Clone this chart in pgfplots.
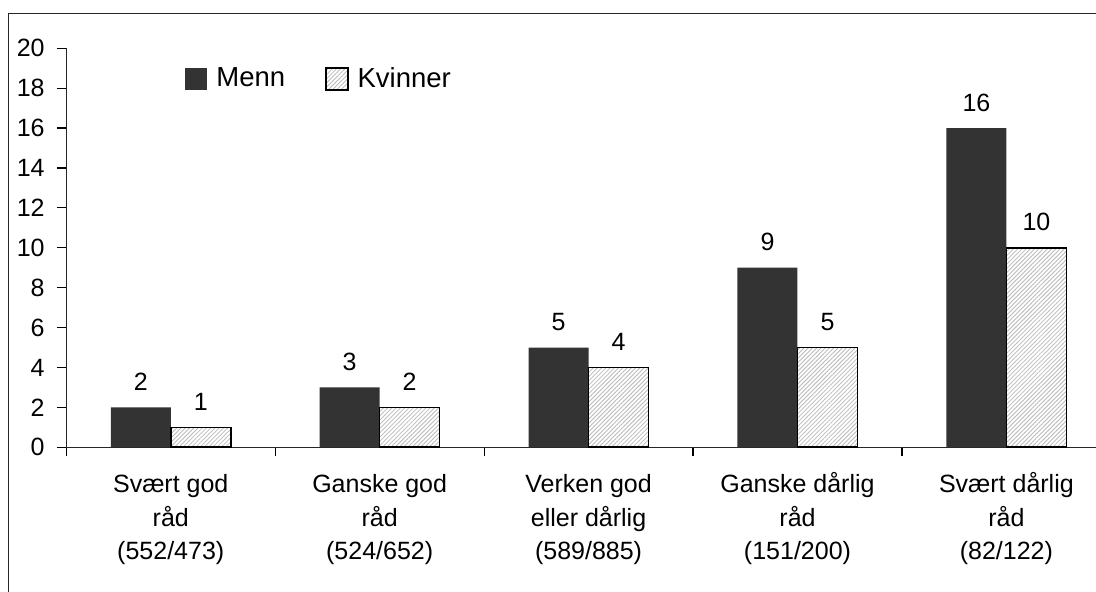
\documentclass[border=0pt]{standalone}
\usepackage{fontspec}
\setmainfont{Liberation Sans}
\usepackage{pgfplots}
\pgfplotsset{compat=1.18}
\usetikzlibrary{patterns.meta}
\definecolor{menn}{HTML}{333333}
\newcommand{\fs}{\rule{0pt}{12pt}}
\begin{document}
\begin{tikzpicture}
\begin{axis}[
  at={(33.15pt,72.35pt)}, anchor=south west,
  width=514.85pt, height=199.5pt, scale only axis,
  xmin=-0.5, xmax=4.429, ymin=0, ymax=20,
  axis x line=bottom, axis y line=left,
  axis line style={-, line width=0.6pt, black!85},
  ytick={0,2,...,20},
  xtick={0,1,2,3,4},
  xticklabels={{\fs Svært god\\råd\\(552/473)},{\fs Ganske god\\råd\\(524/652)},{\fs Verken god\\eller dårlig\\(589/885)},{\fs Ganske dårlig\\råd\\(151/200)},{\fs Svært dårlig\\råd\\(82/122)}},
  minor xtick={-0.5,0.5,1.5,2.5,3.5},
  major x tick style={draw=none},
  tick align=outside,
  major tick length=4.5pt, minor tick length=4.5pt,
  tick style={line width=0.6pt, black},
  /pgf/number format/assume math mode=true,
  tick label style={font=\fontsize{12.5}{16.75}\selectfont},
  xticklabel style={align=center, yshift=-2.7pt},
  yticklabel style={xshift=-2.8pt},
  nodes near coords,
  every node near coord/.append style={font=\fontsize{12.5}{14}\selectfont, anchor=south, yshift=4.8pt},
  legend style={at={(axis description cs:0.1153,0.923)}, anchor=west, draw=none, fill=none,
    font=\fontsize{13.75}{16}\selectfont, legend columns=2, inner sep=0pt,
    /tikz/every even column/.append style={column sep=18pt},
    /tikz/every odd column/.append style={column sep=2.5pt}},
  legend cell align=left,
]
\addplot[ybar, bar width=30pt, bar shift=-15pt, fill=menn, draw=none,
  every node near coord/.append style={xshift=-15pt},
  legend image code/.code={\fill[menn] (0pt,-5.5pt) rectangle (11pt,5.5pt);}]
  coordinates {(0,2) (1,3) (2,5) (3,9) (4,16)};
\addlegendentry{Menn}
\addplot[ybar, bar width=30pt, bar shift=15pt, draw=black, line width=0.8pt,
  every node near coord/.append style={xshift=15pt},
  pattern={Lines[angle=45,distance=1.5pt,line width=0.4pt]}, pattern color=gray!55,
  legend image code/.code={\draw[black, line width=0.7pt, pattern={Lines[angle=45,distance=1.5pt,line width=0.4pt]}, pattern color=gray!55] (0pt,-5.5pt) rectangle (11pt,5.5pt);}]
  coordinates {(0,1) (1,2) (2,4) (3,5) (4,10)};
\addlegendentry{Kvinner}
\end{axis}
\draw[line width=0.5pt, black!85] (4pt,-2pt) -- (4pt,289.35pt) -- (550pt,289.35pt);
\pgfresetboundingbox
\useasboundingbox (0,0) rectangle (548pt,296pt);
\end{tikzpicture}
\end{document}
